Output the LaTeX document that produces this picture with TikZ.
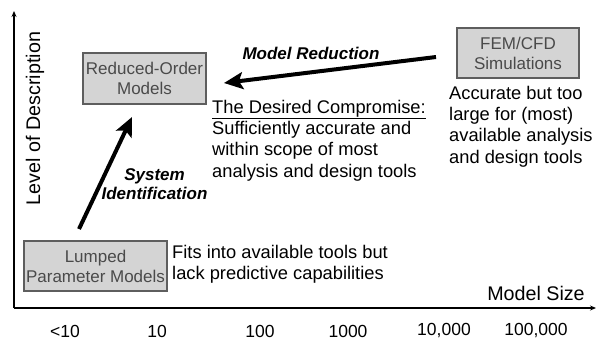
\documentclass[tikz,border=0pt]{standalone}
\usepackage{fontspec}
\setmainfont{Liberation Sans}
\usetikzlibrary{arrows.meta}
\definecolor{boxfill}{HTML}{D4D4D4}
\definecolor{boxline}{HTML}{5E5E5E}
\definecolor{boxtext}{HTML}{4A4A4A}
\begin{document}
\begin{tikzpicture}[x=1pt,y=-1pt,
  box/.style={draw=boxline, fill=boxfill, line width=1.5pt, text=boxtext, align=center,
    inner sep=0pt, font=\fontsize{17}{20}\selectfont},
  body/.style={inner sep=0pt, align=left, font=\fontsize{18.3}{21.3}\selectfont},
  axlabel/.style={inner sep=0pt, font=\fontsize{19.7}{22}\selectfont},
  tick/.style={inner sep=0pt, font=\fontsize{17.5}{20}\selectfont},
  emph/.style={inner sep=0pt, align=center, font=\fontsize{17}{18.5}\selectfont\bfseries\itshape},
  axis/.style={line width=1.5pt, -{Stealth[length=6pt,width=5pt]}},
  bigarrow/.style={line width=4pt, -{Stealth[length=19pt,width=17pt,inset=4pt]}}
]
\useasboundingbox (0,0) rectangle (596,340);

% axes
\coordinate (O) at (14,308);
\coordinate (ytop) at (14,11);
\coordinate (xend) at (596,308);
\draw[axis] (O) -- (ytop);
\draw[axis] (O) -- (xend);

\node[axlabel, rotate=90] (ylab) at (35,118.5) {Level of Description};
\node[axlabel] (xlab) at (536,293) {Model Size};

% ticks
\node[tick] (t1) at (65,331) {<10};
\node[tick] (t2) at (157,331) {10};
\node[tick] (t3) at (260,331) {100};
\node[tick] (t4) at (348,331) {1000};
\node[tick] (t5) at (444,331) {10,000};
\node[tick] (t6) at (536,331) {100,000};

% boxes
\node[box, minimum width=123pt, minimum height=51pt] (red) at (144.5,78.5) {Reduced-Order\\Models};
\node[box, minimum width=122pt, minimum height=50pt] (fem) at (518,53) {FEM/CFD\\Simulations};
\node[box, minimum width=143pt, minimum height=50pt] (lump) at (95.5,266) {Lumped\\Parameter Models};

% descriptions
\node[body, anchor=west] (comp) at (212,140.5) {\underline{The Desired Compromise:}\\Sufficiently accurate and\\within scope of most\\analysis and design tools};
\node[body, anchor=west] (acc) at (449,126.5) {Accurate but too\\large for (most)\\available analysis\\and design tools};
\node[body, anchor=west] (fits) at (172,264) {Fits into available tools but\\lack predictive capabilities};

% arrows
\coordinate (mrS) at (436,57);
\coordinate (mrE) at (224,83);
\draw[bigarrow] (mrS) -- (mrE);
\node[emph] (mr) at (311,53) {Model Reduction};

\coordinate (siS) at (79,229);
\coordinate (siE) at (132,117);
\draw[bigarrow] (siS) -- (siE);
\node[emph] (si) at (154.5,184) {System\\Identification};
\end{tikzpicture}
\end{document}
